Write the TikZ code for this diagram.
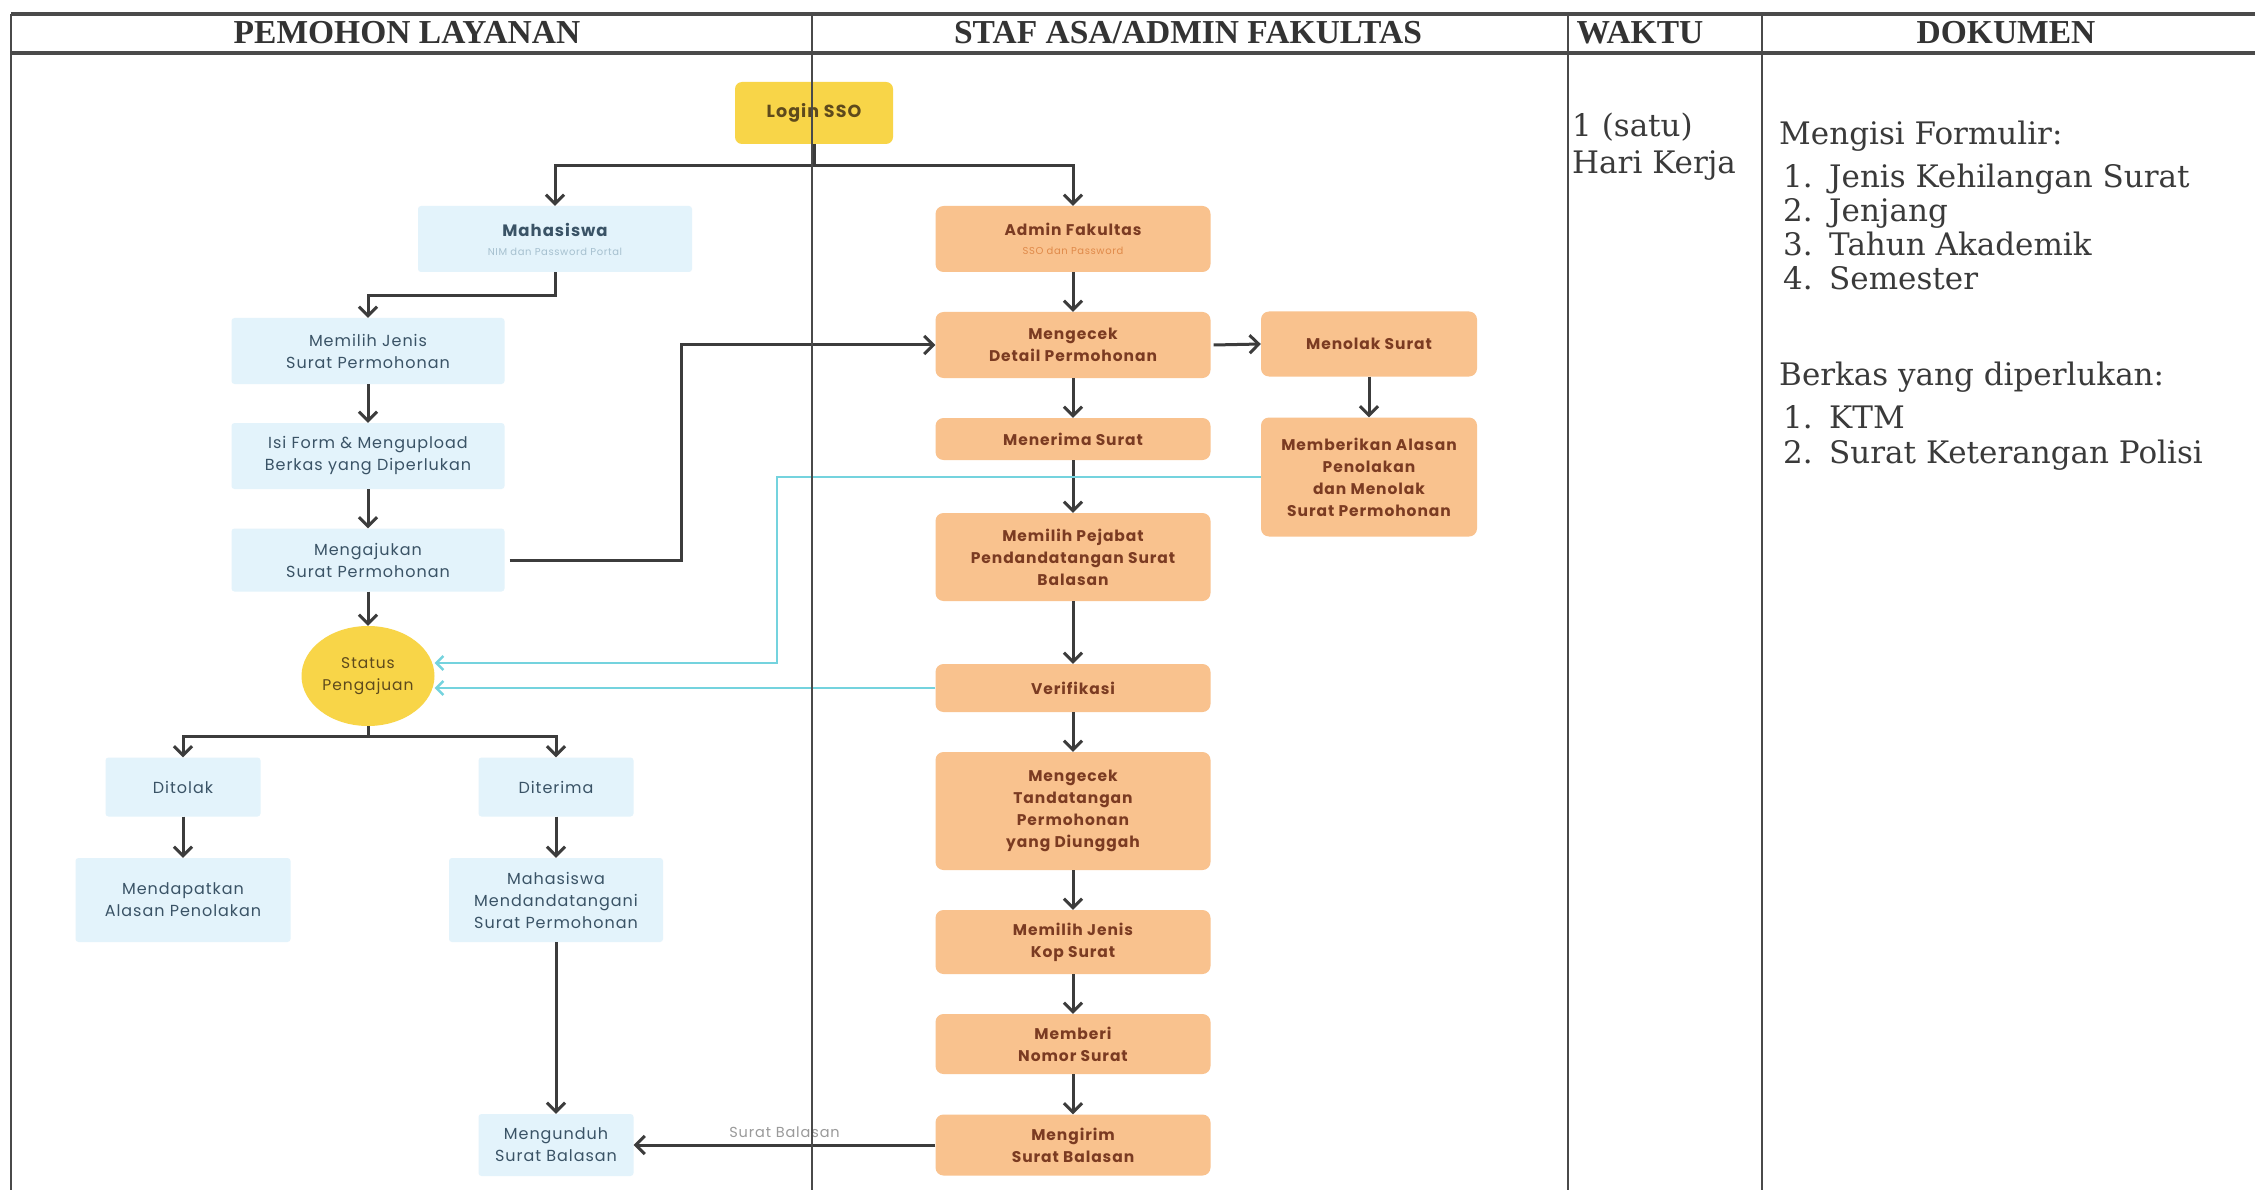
\documentclass[tikz,border=0pt]{standalone}
\usepackage{fontspec}
\usetikzlibrary{arrows.meta,shapes.geometric,calc}
\newfontfamily\boxfont{Poppins}[LetterSpace=6]
\newfontfamily\docfont{DejaVu Serif}
\newfontfamily\headfont{Liberation Serif}
\definecolor{gridline}{HTML}{4A4A4A}
\definecolor{headtext}{HTML}{333333}
\definecolor{doctext}{HTML}{3A3A3A}
\definecolor{bluefill}{HTML}{E3F3FB}
\definecolor{bluetext}{HTML}{3A5366}
\definecolor{subblue}{HTML}{A6C0CF}
\definecolor{orangefill}{HTML}{F9C28E}
\definecolor{orangetext}{HTML}{7B3B22}
\definecolor{suborange}{HTML}{E08A4A}
\definecolor{yellowfill}{HTML}{F8D548}
\definecolor{yellowtext}{HTML}{5E4A1C}
\definecolor{arrowgray}{HTML}{3C3C3C}
\definecolor{cyanline}{HTML}{74D3DE}
\definecolor{labelgray}{HTML}{9A9A9A}
\begin{document}
\begin{tikzpicture}[x=1pt,y=-1pt,
  blbox/.style={fill=bluefill, text=bluetext, rounded corners=3pt, inner sep=2pt,
    align=center, font=\boxfont\fontsize{16}{22}\selectfont},
  orbox/.style={fill=orangefill, text=orangetext, rounded corners=8pt, inner sep=2pt,
    align=center, font=\boxfont\bfseries\fontsize{15.5}{22}\selectfont},
  yelbox/.style={fill=yellowfill, text=yellowtext, rounded corners=7pt, inner sep=2pt,
    align=center, font=\boxfont\bfseries\fontsize{17.5}{22}\selectfont},
  arr/.style={draw=arrowgray, line width=3pt,
    -{Straight Barb[length=9pt,width=18pt,line width=3pt]}},
  plain/.style={draw=arrowgray, line width=3pt},
  cyarr/.style={draw=cyanline, line width=2.5pt,
    -{Straight Barb[length=7pt,width=14pt,line width=2.5pt]}},
  grid/.style={draw=gridline, line width=2pt},
  headline/.style={draw=gridline, line width=3.5pt},
  headtxt/.style={text=headtext, font=\headfont\bfseries\fontsize{33.5}{38}\selectfont},
  doc/.style={anchor=base west, inner sep=0pt, text=doctext, font=\docfont\fontsize{31}{36}\selectfont}
]
\useasboundingbox (0,0) rectangle (2255,1190);
\fill[white] (0,0) rectangle (2255,1190);

% ---------- applicant lane ----------
\node[blbox, minimum width=274, minimum height=66] (mhs) at (555,239)
  {{\bfseries\fontsize{16.5}{20}\selectfont Mahasiswa}\\[-3pt]
   {\fontsize{10}{12}\selectfont\color{subblue} NIM dan Password Portal}};
\node[blbox, minimum width=273, minimum height=66] (mj) at (368,351)
  {Memilih Jenis\\Surat Permohonan};
\node[blbox, minimum width=273, minimum height=66] (isi) at (368,456)
  {Isi Form \& Mengupload\\Berkas yang Diperlukan};
\node[blbox, minimum width=273, minimum height=63] (aju) at (368,560)
  {Mengajukan\\Surat Permohonan};
\node[ellipse, fill=yellowfill, text=yellowtext, inner sep=0pt,
  minimum width=133, minimum height=100, align=center,
  font=\boxfont\fontsize{15.5}{22}\selectfont] (status) at (368,676)
  {Status\\Pengajuan};
\node[blbox, minimum width=155, minimum height=59] (ditolak) at (183,787) {Ditolak};
\node[blbox, minimum width=155, minimum height=59] (diterima) at (556,787) {Diterima};
\node[blbox, minimum width=215, minimum height=84] (dapat) at (183,900)
  {Mendapatkan\\Alasan Penolakan};
\node[blbox, minimum width=214, minimum height=84] (ttdmhs) at (556,900)
  {Mahasiswa\\Mendandatangani\\Surat Permohonan};
\node[blbox, minimum width=155, minimum height=62] (unduh) at (556,1145)
  {Mengunduh\\Surat Balasan};

% ---------- staff lane ----------
\node[yelbox, minimum width=158, minimum height=62] (login) at (814,113) {Login SSO};
\node[orbox, minimum width=275, minimum height=66] (adm) at (1073,239)
  {{\fontsize{15.5}{20}\selectfont Admin Fakultas}\\[-3pt]
   {\mdseries\fontsize{10}{12}\selectfont\color{suborange} SSO dan Password}};
\node[orbox, minimum width=275, minimum height=66] (cek) at (1073,345)
  {Mengecek\\Detail Permohonan};
\node[orbox, minimum width=216, minimum height=65] (tolak) at (1369,344)
  {Menolak Surat};
\node[orbox, minimum width=216, minimum height=119] (alasan) at (1369,477)
  {Memberikan Alasan\\Penolakan\\dan Menolak\\Surat Permohonan};
\node[orbox, minimum width=275, minimum height=42] (terima) at (1073,439)
  {Menerima Surat};
\node[orbox, minimum width=275, minimum height=88] (pejabat) at (1073,557)
  {Memilih Pejabat\\Pendandatangan Surat\\Balasan};
\node[orbox, minimum width=275, minimum height=48] (verif) at (1073,688)
  {Verifikasi};
\node[orbox, minimum width=275, minimum height=118] (ttd) at (1073,811)
  {Mengecek\\Tandatangan\\Permohonan\\yang Diunggah};
\node[orbox, minimum width=275, minimum height=64] (kop) at (1073,942)
  {Memilih Jenis\\Kop Surat};
\node[orbox, minimum width=275, minimum height=60] (nomor) at (1073,1044)
  {Memberi\\Nomor Surat};
\node[orbox, minimum width=275, minimum height=61] (kirim) at (1073,1145)
  {Mengirim\\Surat Balasan};

% ---------- connectors ----------
\draw[plain] (login.south) -- ++(0,21) coordinate (jl);
\draw[arr] (jl) -| (mhs.north);
\draw[arr] (jl) -| (adm.north);
\draw[arr] (mhs.south) -- ++(0,23) -| (mj.north);
\draw[arr] (mj) -- (isi);
\draw[arr] (isi) -- (aju);
\draw[arr] (aju) -- (status);
\draw[arr] ([xshift=5pt]aju.east) -- ++(172,0) |- (cek.west);
\draw[arr] (adm) -- (cek);
\draw[arr] ([xshift=3pt]cek.east) -- (tolak.west);
\draw[arr] (tolak) -- (alasan);
\draw[arr] (cek) -- (terima);
\draw[arr] (terima) -- (pejabat);
\draw[arr] (pejabat) -- (verif);
\draw[arr] (verif) -- (ttd);
\draw[arr] (ttd) -- (kop);
\draw[arr] (kop) -- (nomor);
\draw[arr] (nomor) -- (kirim);
\draw[cyarr] (alasan.west) -- ++(-484,0) |- ([yshift=13pt]status.east);
\draw[cyarr] (verif.west) -- (verif.west -| status.east);
\draw[plain] (status.south) -- ++(0,10) coordinate (sj);
\draw[arr] (sj) -| (ditolak.north);
\draw[arr] (sj) -| (diterima.north);
\draw[arr] (ditolak) -- (dapat);
\draw[arr] (diterima) -- (ttdmhs);
\draw[arr] (ttdmhs) -- (unduh);
\draw[arr] (kirim.west) -- (unduh.east)
  node[midway, above=3pt, text=labelgray, font=\boxfont\fontsize{14.5}{16}\selectfont] (lbl) {Surat Balasan};

% ---------- table frame ----------
\draw[headline] (11,14) -- (2255,14);
\draw[headline] (11,53) -- (2255,53);
\draw[grid] (11,14) -- (11,1190);
\draw[grid] (812,14) -- (812,1190);
\draw[grid] (1568,14) -- (1568,1190);
\draw[grid] (1762,14) -- (1762,1190);

\node[headtxt] (h1) at (407,33) {PEMOHON LAYANAN};
\node[headtxt] (h2) at (1188,33) {STAF ASA/ADMIN FAKULTAS};
\node[headtxt] (h3) at (1640,33) {WAKTU};
\node[headtxt] (h4) at (2006,33) {DOKUMEN};

% ---------- time and documents ----------
\node[doc] (w1) at (1572,137) {1 (satu)};
\node[doc] (w2) at (1572,174) {Hari Kerja};

\node[doc] (d0) at (1779,145) {Mengisi Formulir:};
\node[doc] (d1n) at (1783,188) {1.};
\node[doc] (d1) at (1829,188) {Jenis Kehilangan Surat};
\node[doc] (d2n) at (1783,222) {2.};
\node[doc] (d2) at (1829,222) {Jenjang};
\node[doc] (d3n) at (1783,256) {3.};
\node[doc] (d3) at (1829,256) {Tahun Akademik};
\node[doc] (d4n) at (1783,290) {4.};
\node[doc] (d4) at (1829,290) {Semester};
\node[doc] (b0) at (1779,385) {Berkas yang diperlukan:};
\node[doc] (b1n) at (1783,428) {1.};
\node[doc] (b1) at (1829,428) {KTM};
\node[doc] (b2n) at (1783,463) {2.};
\node[doc] (b2) at (1829,463) {Surat Keterangan Polisi};
\end{tikzpicture}
\end{document}
